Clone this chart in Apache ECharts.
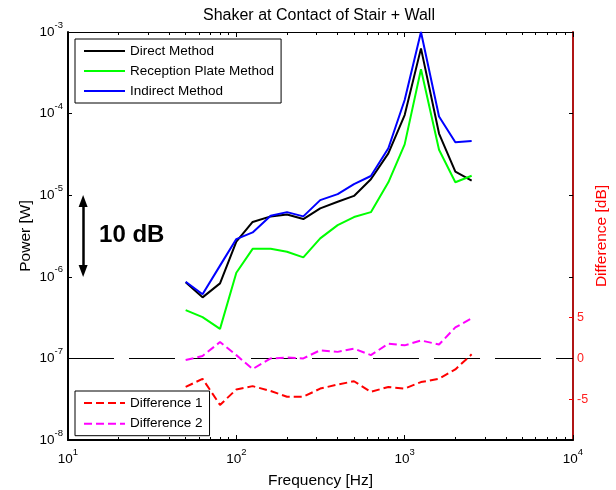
<!DOCTYPE html>
<html><head><meta charset="utf-8">
<script src="https://cdn.jsdelivr.net/npm/echarts@6/dist/echarts.min.js"></script>
<style>html,body{margin:0;padding:0;background:#fff}#c{width:616px;height:490px}</style>
</head><body><div id="c"></div>
<script>
// ---- data ----
const freqs = [50, 63, 80, 100, 125, 160, 200, 250, 315, 400, 500, 630, 800, 1000, 1250, 1600, 2000, 2500];
const directMethod = [8.6e-7, 5.6e-7, 8.3e-7, 2.7e-6, 4.7e-6, 5.5e-6, 5.8e-6, 5.1e-6, 6.9e-6, 8.3e-6, 9.8e-6, 1.57e-5, 3.26e-5, 9.6e-5, 6.3e-4, 5.7e-5, 1.94e-5, 1.51e-5];
const receptionPlate = [3.9e-7, 3.2e-7, 2.3e-7, 1.12e-6, 2.2e-6, 2.2e-6, 2.03e-6, 1.73e-6, 2.96e-6, 4.3e-6, 5.4e-6, 6.2e-6, 1.44e-5, 4.2e-5, 3.5e-4, 3.6e-5, 1.44e-5, 1.73e-5];
const indirectMethod = [8.7e-7, 6.1e-7, 1.37e-6, 2.9e-6, 3.5e-6, 5.6e-6, 6.2e-6, 5.5e-6, 8.7e-6, 1.03e-5, 1.37e-5, 1.72e-5, 3.76e-5, 1.47e-4, 1.0e-3, 9.2e-5, 4.45e-5, 4.6e-5];
const difference1 = [-3.5, -2.5, -5.7, -3.8, -3.4, -4.0, -4.7, -4.7, -3.7, -3.2, -2.8, -4.1, -3.5, -3.7, -2.9, -2.5, -1.35, 0.5];
const difference2 = [-0.2, 0.3, 2.0, 0.4, -1.3, 0.0, 0.1, 0.0, 1.0, 0.8, 1.2, 0.4, 1.8, 1.6, 2.2, 1.7, 3.8, 4.9];
const diffTicks = [-5, 0, 5];
const freqMinorTicks = [20, 30, 40, 50, 60, 70, 80, 90, 200, 300, 400, 500, 600, 700, 800, 900, 2000, 3000, 4000, 5000, 6000, 7000, 8000, 9000];
const seriesNames = ['Direct Method', 'Reception Plate Method', 'Indirect Method'];
const diffNames = ['Difference 1', 'Difference 2'];
const titleText = 'Shaker at Contact of Stair + Wall';
const scaleNote = '10 dB';
const scaleArrowFreq = 12.3;
const scaleArrowSpan = [8.5e-6, 1.18e-6];
const scaleNotePos = [15.3, 3.25e-6];

// ---- chart ----
const FONT = '"Liberation Sans", Arial, Helvetica, sans-serif';
const zip = (xs, ys) => xs.map((x, i) => [x, ys[i]]);
const pow10 = v => '{b|10}{s|' + Math.round(Math.log10(v)) + '}';
const rich = {
  b: { fontSize: 13.5, fontFamily: FONT, color: '#000', lineHeight: 24 },
  s: { fontSize: 9.5, fontFamily: FONT, color: '#000', lineHeight: 11, verticalAlign: 'top' }
};
const nameStyle = { fontSize: 15.5, fontFamily: FONT, color: '#000' };
const blackTick = { color: '#000', width: 1 };
const freqRange = { type: 'log', logBase: 10, min: 10, max: 10000 };
const minorFreqAxis = pos => Object.assign({}, freqRange, {
  position: pos,
  axisLine: { show: false, onZero: false },
  axisTick: { show: true, inside: true, length: 3, customValues: freqMinorTicks, lineStyle: blackTick },
  axisLabel: { show: false },
  splitLine: { show: false }
});

const chart = echarts.init(document.getElementById('c'), null, { renderer: 'canvas' });
chart.setOption({
  animation: false,
  backgroundColor: '#fff',
  title: {
    text: titleText, left: 203, top: 8, padding: 0,
    textStyle: { fontSize: 16, fontWeight: 'normal', fontFamily: FONT, color: '#000' }
  },
  grid: { left: 68, right: 43, top: 32, bottom: 50, containLabel: false, outerBoundsMode: 'none' },
  legend: [
    {
      data: seriesNames, orient: 'vertical', left: 75, top: 39, padding: [5, 7, 5, 8],
      itemGap: 6, itemWidth: 41, itemHeight: 14, borderColor: '#000', borderWidth: 1,
      backgroundColor: '#fff', selectedMode: false, z: 10,
      itemStyle: { opacity: 0, color: 'rgba(0,0,0,0)', borderWidth: 0 },
      textStyle: { fontSize: 13.5, fontFamily: FONT, color: '#000' }
    },
    {
      data: diffNames, orient: 'vertical', left: 75, top: 391, padding: [5, 7, 5, 8],
      itemGap: 6.7, itemWidth: 41, itemHeight: 14, borderColor: '#000', borderWidth: 1,
      backgroundColor: '#fff', selectedMode: false, z: 10,
      itemStyle: { opacity: 0, color: 'rgba(0,0,0,0)', borderWidth: 0 },
      textStyle: { fontSize: 13.5, fontFamily: FONT, color: '#000' }
    }
  ],
  xAxis: [
    Object.assign({}, freqRange, {
      position: 'bottom',
      axisLine: { show: true, onZero: false, lineStyle: { color: '#000', width: 2 } },
      axisTick: { show: true, inside: true, length: 5, lineStyle: blackTick },
      axisLabel: { formatter: pow10, rich: rich, margin: 7 },
      splitLine: { show: false },
      name: 'Frequency [Hz]', nameLocation: 'middle', nameGap: 33, nameMoveOverlap: false, nameTextStyle: nameStyle
    }),
    Object.assign({}, freqRange, {
      position: 'top',
      axisLine: { show: true, onZero: false, lineStyle: { color: '#000', width: 1 } },
      axisTick: { show: true, inside: true, length: 5, lineStyle: blackTick },
      axisLabel: { show: false },
      splitLine: { show: false }
    }),
    minorFreqAxis('bottom'),
    minorFreqAxis('top')
  ],
  yAxis: [
    {
      type: 'log', logBase: 10, min: 1e-8, max: 1e-3, position: 'left',
      axisLine: { show: true, onZero: false, lineStyle: { color: '#000', width: 2 } },
      axisTick: { show: true, inside: true, length: 4, lineStyle: blackTick },
      axisLabel: { formatter: pow10, rich: rich, margin: 5 },
      splitLine: { show: false },
      name: 'Power [W]', nameLocation: 'middle', nameRotate: 90, nameGap: 34, nameMoveOverlap: false, nameTextStyle: nameStyle
    },
    {
      type: 'value', min: -10, max: 40, interval: 5, position: 'right',
      axisLine: { show: true, onZero: false, lineStyle: { color: '#b01515', width: 2 } },
      axisTick: { show: true, inside: true, length: 4, customValues: diffTicks, lineStyle: { color: '#ff0000', width: 1 } },
      axisLabel: {
        customValues: diffTicks, margin: 4, color: '#ff2020', fontSize: 12.5, fontFamily: FONT,
        formatter: v => (diffTicks.indexOf(v) >= 0 ? String(v) : '')
      },
      splitLine: { show: false },
      name: 'Difference [dB]', nameLocation: 'middle', nameRotate: 90, nameGap: 21, nameMoveOverlap: false,
      nameTextStyle: { fontSize: 15.5, fontFamily: FONT, color: '#ff0000' }
    },
    {
      type: 'log', logBase: 10, min: 1e-8, max: 1e-3, position: 'right',
      axisLine: { show: false, onZero: false },
      axisTick: { show: true, inside: true, length: 4, lineStyle: blackTick },
      axisLabel: { show: false },
      splitLine: { show: false }
    }
  ],
  series: [
    {
      name: seriesNames[0], type: 'line', xAxisIndex: 0, yAxisIndex: 0, symbol: 'none',
      data: zip(freqs, directMethod), lineStyle: { color: '#000000', width: 2 }, itemStyle: { color: '#000000' }, z: 3
    },
    {
      name: seriesNames[1], type: 'line', xAxisIndex: 0, yAxisIndex: 0, symbol: 'none',
      data: zip(freqs, receptionPlate), lineStyle: { color: '#00ff00', width: 2 }, itemStyle: { color: '#00ff00' }, z: 3
    },
    {
      name: seriesNames[2], type: 'line', xAxisIndex: 0, yAxisIndex: 0, symbol: 'none',
      data: zip(freqs, indirectMethod), lineStyle: { color: '#0000ff', width: 2 }, itemStyle: { color: '#0000ff' }, z: 3
    },
    {
      name: diffNames[0], type: 'line', xAxisIndex: 0, yAxisIndex: 1, symbol: 'none',
      data: zip(freqs, difference1), lineStyle: { color: '#ff0000', width: 2, type: [8, 4] }, itemStyle: { color: '#ff0000' }, z: 3,
      markLine: {
        silent: true, symbol: 'none', label: { show: false },
        lineStyle: { color: '#000', width: 1, type: [46, 15] },
        data: [{ yAxis: 0 }], z: 2
      }
    },
    {
      name: diffNames[1], type: 'line', xAxisIndex: 0, yAxisIndex: 1, symbol: 'none',
      data: zip(freqs, difference2), lineStyle: { color: '#ff00ff', width: 2, type: [8, 4] }, itemStyle: { color: '#ff00ff' }, z: 3
    },
    {
      name: '_note', type: 'scatter', xAxisIndex: 0, yAxisIndex: 0, silent: true,
      symbolSize: 0, itemStyle: { color: 'rgba(0,0,0,0)', opacity: 1 },
      data: [scaleNotePos],
      label: { show: true, position: 'right', distance: 0, formatter: scaleNote, fontSize: 24, fontWeight: 'bold', fontFamily: FONT, color: '#000', opacity: 1 },
      markLine: {
        silent: true, symbol: ['triangle', 'triangle'], symbolSize: [9, 12], label: { show: false },
        lineStyle: { color: '#000', width: 2.5, type: 'solid' },
        data: [[{ coord: [scaleArrowFreq, scaleArrowSpan[0]] }, { coord: [scaleArrowFreq, scaleArrowSpan[1]] }]]
      }
    }
  ]
});
</script>
</body></html>
